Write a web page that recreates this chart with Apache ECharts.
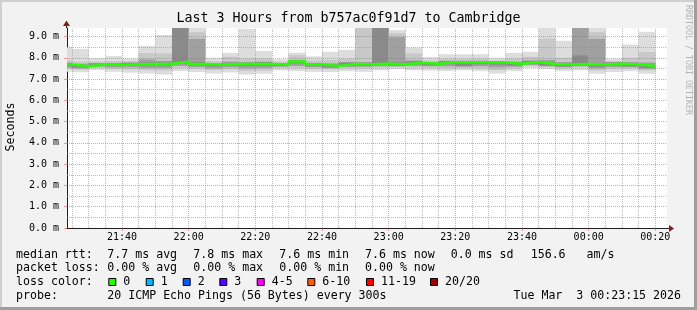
<!DOCTYPE html>
<html><head><meta charset="utf-8">
<script src="https://cdn.jsdelivr.net/npm/echarts@6/dist/echarts.min.js"></script>
<style>html,body{margin:0;padding:0;background:#f2f2f2}#c{width:697px;height:310px}</style>
</head><body><div id="c"></div><script>
// ---------- data ----------
const binTimes = ['21:25','21:30','21:35','21:40','21:45','21:50','21:55','22:00','22:05','22:10','22:15','22:20','22:25','22:30','22:35','22:40','22:45','22:50','22:55','23:00','23:05','23:10','23:15','23:20','23:25','23:30','23:35','23:40','23:45','23:50','23:55','00:00','00:05','00:10','00:15','00:20'];
const median   = [7.68,7.60,7.68,7.66,7.70,7.71,7.72,7.81,7.71,7.68,7.71,7.71,7.71,7.69,7.82,7.68,7.62,7.71,7.70,7.72,7.70,7.77,7.72,7.79,7.79,7.79,7.78,7.72,7.80,7.71,7.68,7.71,7.68,7.72,7.68,7.61];
const smokeMax = [8.50,8.42,7.98,8.08,7.96,8.56,9.07,9.60,9.60,8.00,8.23,9.36,8.32,7.93,8.24,8.07,8.28,8.37,9.60,9.60,9.30,8.48,8.03,8.17,8.16,8.17,7.98,8.23,8.28,9.60,8.80,9.60,9.60,7.95,8.62,9.22];
const smokeMin = [7.35,7.32,7.42,7.34,7.30,7.26,7.21,7.38,7.33,7.26,7.31,7.21,7.25,7.41,7.38,7.34,7.33,7.37,7.34,7.41,7.47,7.41,7.40,7.38,7.41,7.37,7.26,7.37,7.52,7.47,7.37,7.41,7.25,7.33,7.37,7.25];
const smokeHi2 = [7.90,7.82,7.82,7.85,7.85,8.22,8.20,9.60,9.21,7.85,8.05,7.96,7.96,7.82,8.12,7.88,7.90,7.95,9.60,9.60,9.15,8.20,7.88,7.95,7.94,7.95,7.88,7.96,8.05,8.90,8.00,9.60,9.21,7.85,8.00,8.27];
const smokeLo2 = [7.48,7.45,7.52,7.48,7.46,7.42,7.40,7.52,7.48,7.42,7.46,7.38,7.40,7.52,7.52,7.48,7.46,7.50,7.50,7.54,7.56,7.54,7.52,7.50,7.52,7.50,7.42,7.50,7.60,7.56,7.50,7.55,7.40,7.48,7.50,7.40];
const smokeHi3 = [7.78,7.72,7.75,7.76,7.78,7.92,7.86,9.60,8.90,7.74,7.82,7.80,7.82,7.74,7.90,7.76,7.74,7.80,7.80,9.60,8.97,7.88,7.78,7.86,7.86,7.86,7.84,7.82,7.88,7.90,7.80,9.60,8.90,7.80,7.80,7.78];
const smokeLo3 = [7.54,7.50,7.58,7.55,7.55,7.52,7.52,7.62,7.56,7.50,7.55,7.50,7.52,7.58,7.62,7.56,7.52,7.57,7.58,7.60,7.60,7.62,7.60,7.60,7.58,7.60,7.55,7.58,7.66,7.60,7.56,7.60,7.50,7.56,7.56,7.48];
const smokeHi4 = [7.74,7.66,7.73,7.72,7.76,7.78,7.78,9.60,7.80,7.73,7.77,7.76,7.78,7.74,7.87,7.73,7.68,7.77,7.76,9.60,7.79,7.83,7.77,7.84,7.84,7.84,7.83,7.78,7.85,7.80,7.74,8.11,7.76,7.77,7.74,7.68];
const smokeLo4 = [7.60,7.55,7.62,7.60,7.63,7.63,7.64,7.72,7.64,7.60,7.64,7.62,7.62,7.62,7.74,7.60,7.56,7.63,7.62,7.66,7.63,7.70,7.65,7.70,7.62,7.70,7.68,7.64,7.72,7.64,7.60,7.64,7.58,7.64,7.60,7.53];

const xTickLabels = ['21:40','22:00','22:20','22:40','23:00','23:20','23:40','00:00','00:20'];
const yTickValues = [0,1,2,3,4,5,6,7,8,9];
const yMinorValues = [0.5,1.5,2.5,3.5,4.5,5.5,6.5,7.5,8.5];

const titleText = 'Last 3 Hours from b757ac0f91d7 to Cambridge';
const rowMedian = ['median rtt:','7.7 ms avg','7.8 ms max','7.6 ms min','7.6 ms now','0.0 ms sd','156.6   am/s'];
const rowLoss   = ['packet loss:','0.00 % avg','0.00 % max','0.00 % min','0.00 % now'];
const lossLabels = ['0','1','2','3','4-5','6-10','11-19','20/20'];
const lossColors = ['#26ff00','#00b8ff','#0059ff','#5e00ff','#ff00ff','#ff5e00','#ff0000','#a10000'];
const probeText = '20 ICMP Echo Pings (56 Bytes) every 300s';
const dateText = 'Tue Mar  3 00:23:15 2026';

// ---------- helpers ----------
function toMin(s){const [h,m]=s.split(':').map(Number);let v=h*60+m;if(h<12)v+=1440;return v;}
function fmt(v){v=((v%1440)+1440)%1440;const h=Math.floor(v/60),m=Math.round(v%60);return String(h).padStart(2,'0')+':'+String(m).padStart(2,'0');}
const X_MIN = toMin('21:23') + 0.5, X_MAX = toMin('00:23') + 0.5;
const Y_MAX = 9.4;
const binEnd = binTimes.map(toMin);
const xMajor = xTickLabels.map(toMin);
const xMinor = [];
for (let t = toMin('21:25'); t < X_MAX; t += 5) if (xMajor.indexOf(t) < 0) xMinor.push(t);

const MONO = '"DejaVu Sans Mono", monospace';
const MAJ = 'rgba(222,79,79,0.55)', MIN = 'rgba(143,143,143,0.6)';
const bandColors = ['#dddddd','#c8c8c8','#a0a0a0','#8a8a8a'];

const smokeData = binEnd.map((t,i)=>[t, Math.max(t-5, X_MIN), smokeMin[i], smokeMax[i], smokeLo2[i], smokeHi2[i], smokeLo3[i], smokeHi3[i], smokeLo4[i], smokeHi4[i]]);
const medianData = [[X_MIN, median[0]]].concat(binEnd.map((t,i)=>[t, median[i]]));

const gridLines = [];
xMinor.forEach(v=>gridLines.push({xAxis:v, lineStyle:{color:MIN,type:[1,1],width:1}}));
yMinorValues.forEach(v=>gridLines.push({yAxis:v, lineStyle:{color:MIN,type:[1,1],width:1}}));
xMajor.forEach(v=>gridLines.push({xAxis:v, lineStyle:{color:MAJ,type:[1,1],width:1}}));
yTickValues.filter(v=>v>0).forEach(v=>gridLines.push({yAxis:v, lineStyle:{color:MAJ,type:[1,1],width:1}}));

function txt(x,y,text,opt){opt=opt||{};return {type:'text',x:x,y:y,rotation:opt.rot||0,silent:true,z:100,style:{text:text,font:(opt.size||11.6)+'px '+MONO,fill:opt.color||'#000',align:opt.align||'left',verticalAlign:'middle',textAlign:opt.align||'left',textVerticalAlign:'middle'}};}

const graphics = [];
// frame
graphics.push({type:'rect',shape:{x:0,y:0,width:697,height:2},style:{fill:'#cfcfcf'},silent:true});
graphics.push({type:'rect',shape:{x:0,y:0,width:2,height:310},style:{fill:'#cfcfcf'},silent:true});
graphics.push({type:'rect',shape:{x:0,y:307,width:697,height:3},style:{fill:'#9e9e9e'},silent:true});
graphics.push({type:'rect',shape:{x:694,y:0,width:3,height:310},style:{fill:'#9e9e9e'},silent:true});
// title, axis name, watermark
graphics.push(txt(348.5,19,titleText,{size:13.3,align:'center'}));
graphics.push(txt(11,127,'Seconds',{rot:Math.PI/2,align:'center'}));
graphics.push(txt(688,60,'RRDTOOL / TOBI OETIKER',{rot:-Math.PI/2,align:'center',size:8.3,color:'#b4b4b4'}));
// axis extensions + arrows
graphics.push({type:'line',shape:{x1:667,y1:228.5,x2:670,y2:228.5},style:{stroke:'#1f1f1f',lineWidth:1},z:50});
graphics.push({type:'polygon',shape:{points:[[669,225],[674,228.5],[669,232]]},style:{fill:'#801f1f'},z:51});
graphics.push({type:'line',shape:{x1:66.5,y1:28,x2:66.5,y2:24},style:{stroke:'#1f1f1f',lineWidth:1},z:50});
graphics.push({type:'polygon',shape:{points:[[63,26],[66.5,20.5],[70,26]]},style:{fill:'#801f1f'},z:51});
// legend rows
const colX = [16,107.3,193.3,279.3,365,450.7,530.7];
rowMedian.forEach((s,i)=>graphics.push(txt(colX[i],254.5,s)));
rowLoss.forEach((s,i)=>graphics.push(txt(colX[i],268,s)));
graphics.push(txt(16,282,'loss color:'));
const boxX = [108.3,145.7,182.7,219.3,256.7,307.3,366,430];
lossLabels.forEach((s,i)=>{
  graphics.push({type:'rect',shape:{x:boxX[i]+0.5,y:278.5,width:7,height:7},style:{fill:lossColors[i],stroke:'#000',lineWidth:1},silent:true,z:100});
  graphics.push(txt(boxX[i]+15,282,s));
});
graphics.push(txt(16,296,'probe:'));
graphics.push(txt(107.3,296,probeText));
graphics.push(txt(681,296,dateText,{align:'right'}));

const chart = echarts.init(document.getElementById('c'), null, {renderer:'canvas'});
chart.setOption({
  animation:false,
  backgroundColor:'#f2f2f2',
  grid:{left:67,top:28,width:600,height:200,show:true,backgroundColor:'#ffffff',borderWidth:0,containLabel:false,outerBoundsMode:'none'},
  xAxis:{type:'value',min:X_MIN,max:X_MAX,
    axisLine:{show:true,onZero:false,lineStyle:{color:'#1f1f1f',width:1}},
    axisTick:{show:true,customValues:xMajor,length:3,lineStyle:{color:MAJ}},
    axisLabel:{customValues:xMajor,formatter:v=>fmt(v),fontFamily:MONO,fontSize:10,color:'#000',margin:4},
    splitLine:{show:false}},
  yAxis:{type:'value',min:0,max:Y_MAX,
    axisLine:{show:true,onZero:false,lineStyle:{color:'#1f1f1f',width:1}},
    axisTick:{show:true,customValues:yTickValues,length:3,lineStyle:{color:MAJ}},
    axisLabel:{customValues:yTickValues,formatter:v=>v.toFixed(1)+' m',fontFamily:MONO,fontSize:10,color:'#000',margin:8},
    splitLine:{show:false}},
  series:[
    {type:'custom',z:2,silent:true,data:smokeData,encode:{x:[0,1],y:[2,3]},
      renderItem:function(params,api){
        const children=[];
        for(let b=0;b<4;b++){
          const lo=api.value(2+2*b), hi=Math.min(api.value(3+2*b),Y_MAX);
          const p1=api.coord([api.value(1),hi]);
          const p2=api.coord([api.value(0),lo]);
          children.push({type:'rect',shape:{x:p1[0],y:p1[1],width:p2[0]-p1[0],height:p2[1]-p1[1]},style:{fill:bandColors[b]}});
        }
        return {type:'group',children:children};
      }},
    {type:'line',z:5,silent:true,step:'start',data:medianData,showSymbol:false,
      lineStyle:{color:'#26ff00',width:2.5},
      markLine:{silent:true,symbol:['none','none'],label:{show:false},animation:false,data:gridLines}}
  ],
  graphic:{elements:graphics}
});
</script></body></html>
